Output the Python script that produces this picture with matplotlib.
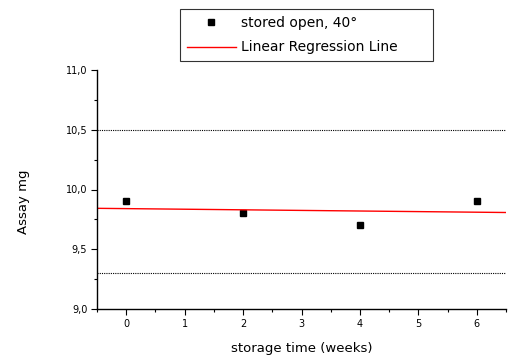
import numpy as np
import matplotlib.pyplot as plt
from matplotlib.ticker import MultipleLocator, FuncFormatter

plt.rcParams["font.family"] = ["DejaVu Sans"]

# data
weeks = [0, 2, 4, 6]
assay = [9.9, 9.8, 9.7, 9.9]
upper_limit = 10.5
lower_limit = 9.3

fig = plt.figure(figsize=(5.08, 3.56), dpi=100)
ax = fig.add_axes([97 / 508, 1 - 309 / 356, 409 / 508, 239 / 356])

ax.plot(weeks, assay, "s", color="black", markersize=4.5, label="stored open, 40°")

# regression line across the whole x range
xmin, xmax = -0.5, 6.5
slope, icpt = np.polyfit(weeks, assay, 1)
xr = np.array([xmin, xmax])
ax.plot(xr, icpt + slope * xr, color="red", linewidth=1.0, label="Linear Regression Line")

ax.axhline(upper_limit, color="black", linestyle=(0, (1, 1)), linewidth=0.8)
ax.axhline(lower_limit, color="black", linestyle=(0, (1, 1)), linewidth=0.8)

ax.set_xlim(xmin, xmax)
ax.set_ylim(9.0, 11.0)
ax.xaxis.set_major_locator(MultipleLocator(1))
ax.xaxis.set_minor_locator(MultipleLocator(0.5))
ax.yaxis.set_major_locator(MultipleLocator(0.5))
ax.yaxis.set_minor_locator(MultipleLocator(0.25))
ax.yaxis.set_major_formatter(FuncFormatter(lambda v, p: f"{v:.1f}".replace(".", ",")))

for s in ["top", "right"]:
    ax.spines[s].set_visible(False)
ax.spines["left"].set_linewidth(1.0)
ax.spines["bottom"].set_linewidth(1.0)
ax.tick_params(which="major", direction="out", length=4, width=0.8, labelsize=7, pad=3)
ax.tick_params(which="minor", direction="out", length=2.5, width=0.8)

ax.set_xlabel("storage time (weeks)", fontsize=9.5)
ax.xaxis.set_label_coords(0.5, -0.14)
ax.set_ylabel("Assay mg", fontsize=9.5)
ax.yaxis.set_label_coords(-0.165, 0.45)

leg = fig.legend(loc="upper left", bbox_to_anchor=(180 / 508, 1 - 62 / 356, 253 / 508, 53 / 356),
                 mode="expand", fontsize=10, frameon=True, fancybox=False, edgecolor="black",
                 handlelength=3.5, borderpad=0.5, labelspacing=0.75, handletextpad=0.4,
                 borderaxespad=0)
leg.get_frame().set_linewidth(0.8)

fig.savefig("out.png", dpi=100)
